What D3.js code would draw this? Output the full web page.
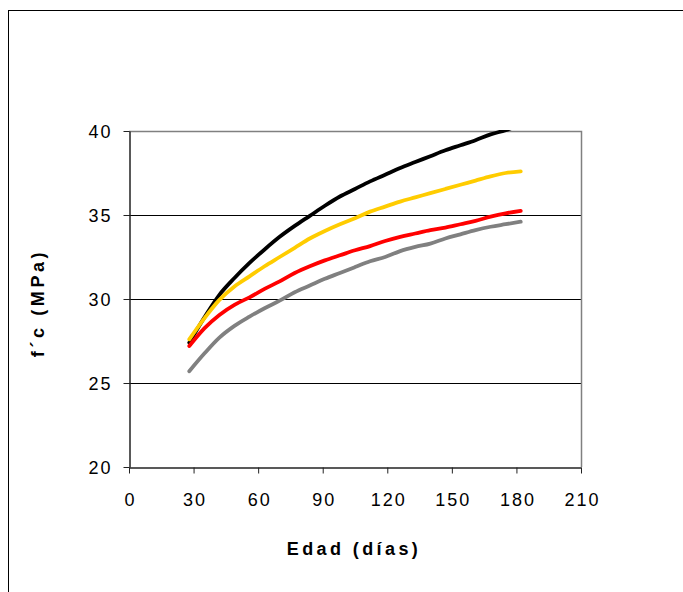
<!DOCTYPE html>
<html>
<head>
<meta charset="utf-8">
<script src="https://cdn.jsdelivr.net/npm/d3@7"></script>
<style>
  html, body { margin: 0; padding: 0; background: #fff; }
  svg { display: block; }
  text { font-family: "Liberation Sans", Arial, sans-serif; }
</style>
</head>
<body>
<svg id="chart" width="683" height="592"></svg>
<script>
// ---- data ----
const dias = [28, 35, 42, 49, 56, 63, 70, 77, 84, 91, 98, 105, 112, 119, 126, 133, 140, 147, 154, 161, 168, 175, 182];
const serieNegra    = [27.4, 28.9, 30.25, 31.25, 32.15, 32.95, 33.7, 34.35, 34.95, 35.55, 36.1, 36.55, 37.0, 37.4, 37.8, 38.15, 38.5, 38.85, 39.15, 39.45, 39.8, 40.05, 40.4];
const serieAmarilla = [27.6, 28.85, 29.95, 30.75, 31.35, 31.95, 32.5, 33.05, 33.6, 34.05, 34.45, 34.8, 35.2, 35.5, 35.8, 36.05, 36.3, 36.55, 36.8, 37.05, 37.3, 37.5, 37.6];
const serieRoja     = [27.2, 28.25, 29.05, 29.65, 30.1, 30.6, 31.05, 31.55, 31.95, 32.3, 32.6, 32.9, 33.15, 33.45, 33.7, 33.9, 34.1, 34.25, 34.45, 34.65, 34.9, 35.1, 35.25];
const serieGris     = [25.7, 26.75, 27.7, 28.4, 28.95, 29.45, 29.9, 30.4, 30.8, 31.2, 31.55, 31.9, 32.25, 32.5, 32.85, 33.1, 33.3, 33.6, 33.85, 34.1, 34.3, 34.45, 34.6];
const xTicks = [0, 30, 60, 90, 120, 150, 180, 210];
const yTicks = [20, 25, 30, 35, 40];
const xTitle = "Edad (días)";
const yTitle = "f´c (MPa)";

const series = [
  { values: serieNegra, color: "#000000" },
  { values: serieAmarilla, color: "#FFCC00" },
  { values: serieRoja, color: "#FF0000" },
  { values: serieGris, color: "#808080" }
];

// ---- layout ----
const svg = d3.select("#chart");
const pLeft = 129, pRight = 581, pTop = 131, pBottom = 467;

const x = d3.scaleLinear().domain([0, 210]).range([pLeft, pRight]);
const y = d3.scaleLinear().domain([20, 40]).range([pBottom, pTop]);

// outer frame
svg.append("rect")
  .attr("x", 8.5).attr("y", 10.5)
  .attr("width", 700).attr("height", 600)
  .attr("fill", "none").attr("stroke", "#000").attr("stroke-width", 1);

// gridlines
svg.append("g").selectAll("line")
  .data(yTicks.filter(t => t > 20 && t < 40))
  .join("line")
  .attr("x1", pLeft).attr("x2", pRight)
  .attr("y1", d => Math.round(y(d)) + 0.5).attr("y2", d => Math.round(y(d)) + 0.5)
  .attr("stroke", "#000").attr("stroke-width", 1);

// plot border top/right (gray)
svg.append("path")
  .attr("d", `M${pLeft},${pTop + 0.5}H${pRight + 0.5}V${pBottom}`)
  .attr("fill", "none").attr("stroke", "#808080").attr("stroke-width", 1.5);

// clip
svg.append("clipPath").attr("id", "plotclip")
  .append("rect").attr("x", pLeft).attr("y", pTop - 1).attr("width", pRight - pLeft).attr("height", pBottom - pTop + 1);

// lines
const line = d3.line()
  .x((d, i) => x(dias[i]))
  .y(d => y(d))
  .curve(d3.curveMonotoneX);

const g = svg.append("g").attr("clip-path", "url(#plotclip)");
series.forEach(s => {
  g.append("path")
    .datum(s.values)
    .attr("d", line)
    .attr("fill", "none")
    .attr("stroke", s.color)
    .attr("stroke-width", 3.8)
    .attr("stroke-linejoin", "round")
    .attr("stroke-linecap", "round");
});

// axes
const xAxis = d3.axisBottom(x).tickValues(xTicks).tickSize(6).tickPadding(8).tickSizeOuter(0);
const yAxis = d3.axisLeft(y).tickValues(yTicks).tickSize(6).tickPadding(9).tickSizeOuter(0);

const gx = svg.append("g").attr("transform", `translate(0,${pBottom + 0.5})`).call(xAxis);
const gy = svg.append("g").attr("transform", `translate(${pLeft + 0.5},0)`).call(yAxis);

[gx, gy].forEach(ax => {
  ax.select(".domain").attr("stroke", "#222").attr("stroke-width", 1.5);
  ax.selectAll(".tick line").attr("stroke", "#222").attr("stroke-width", 1);
  ax.selectAll(".tick text")
    .attr("fill", "#000")
    .style("font-size", "18px")
    .style("letter-spacing", "2px")
    .style("font-family", "'Liberation Sans', Arial, sans-serif");
});
gx.selectAll(".tick text").attr("dy", "0").attr("y", 38).attr("dx", "1px");
gy.selectAll(".tick text").attr("dy", "0.35em").attr("x", -17);

// axis titles
svg.append("text")
  .attr("x", 354).attr("y", 555)
  .attr("text-anchor", "middle")
  .style("font-size", "18px").style("font-weight", "bold")
  .style("letter-spacing", "3.4px")
  .text(xTitle);

svg.append("text")
  .attr("transform", "translate(44,303) rotate(-90)")
  .attr("text-anchor", "middle")
  .style("font-size", "18px").style("font-weight", "bold")
  .style("letter-spacing", "3.6px")
  .text(yTitle);
</script>
</body>
</html>
